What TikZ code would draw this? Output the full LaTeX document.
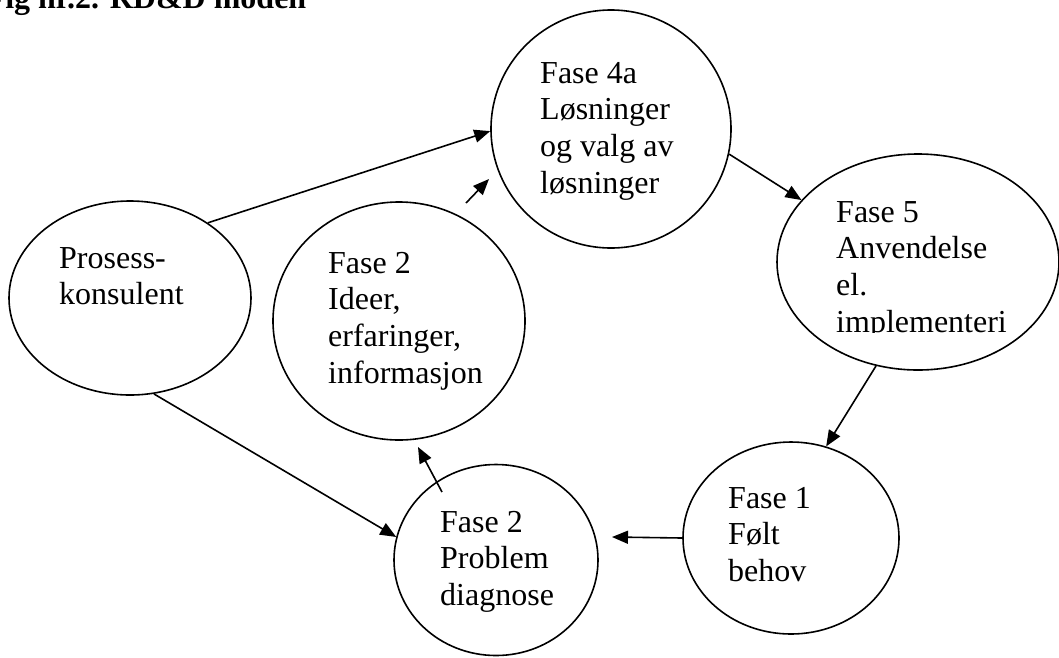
\documentclass[tikz,border=0pt]{standalone}
\usepackage{fontspec}
\setmainfont{Liberation Serif}
\usetikzlibrary{shapes.geometric,arrows.meta}

% lines of a label, stacked with a fixed baseline distance
\newcommand{\lbl}[1]{\vtop{\baselineskip=36.7pt\lineskiplimit=-100pt #1}}

\tikzset{
  ell/.style={draw, ellipse, line width=1.6pt, inner sep=0pt},
  txt/.style={anchor=base west, inner sep=0pt, font=\fontsize{32}{36.7}\selectfont},
  arr/.style={line width=1.6pt, -{Triangle[length=16pt,width=13pt]}},
}

\begin{document}
\begin{tikzpicture}[x=1pt, y=-1pt]
\useasboundingbox (0,0) rectangle (1059,657);
\clip (0,0) rectangle (1059,657);

% title
\node[anchor=base west, inner sep=0pt, font=\bfseries\fontsize{32}{36}\selectfont] (title) at (-14.5,8) {Fig nr.2. RD\&D moden};

% ellipses
\node[ell, minimum width=242pt, minimum height=194pt] (pk) at (130,298) {};
\node[ell, minimum width=240pt, minimum height=238pt] (f4a) at (611,129) {};
\node[ell, minimum width=252pt, minimum height=238pt] (f2i) at (399,321) {};
\node[ell, minimum width=282pt, minimum height=216pt] (f5) at (918,262) {};
\node[ell, minimum width=216pt, minimum height=192pt] (f1) at (791,538) {};
\node[ell, minimum width=204pt, minimum height=191pt] (pd) at (496,560) {};

% labels
\node[txt] (tpk) at (59,268) {\lbl{\hbox{Prosess-}\hbox{konsulent}}};
\node[txt] (tf4a) at (540,83) {\lbl{\hbox{Fase 4a}\hbox{Løsninger}\hbox{og valg av}\hbox{løsninger}}};
\node[txt] (tf2i) at (328,273) {\lbl{\hbox{Fase 2}\hbox{Ideer,}\hbox{erfaringer,}\hbox{informasjon}}};
\begin{scope}
  \clip (780,150) rectangle (1059,332.5);
  \node[txt] (tf5) at (836,222) {\lbl{\hbox{Fase 5}\hbox{Anvendelse}\hbox{el.}\hbox{implementeri}}};
\end{scope}
\node[txt] (tf1) at (728,508) {\lbl{\hbox{Fase 1}\hbox{Følt}\hbox{behov}}};
\node[txt] (tpd) at (440,532) {\lbl{\hbox{Fase 2}\hbox{Problem}\hbox{diagnose}}};

% free arrow ends
\coordinate (s1) at (466,203);
\coordinate (s2) at (489,179);
\coordinate (e1) at (612,537);
\coordinate (s3) at (442,492);
\coordinate (s4) at (418,447);

% connectors
\draw[arr] (pk.44.6) -- (f4a.181);
\draw[arr] (s1) -- (s2);
\draw[arr] (f4a.-12.5) -- (f5.152.8);
\draw[arr] (f5.248) -- (f1.69.2);
\draw[arr] (f1.180) -- (e1);
\draw[arr] (pk.-76.4) -- (pd.167.4);
\draw[arr] (s3) -- (s4);
\end{tikzpicture}
\end{document}
